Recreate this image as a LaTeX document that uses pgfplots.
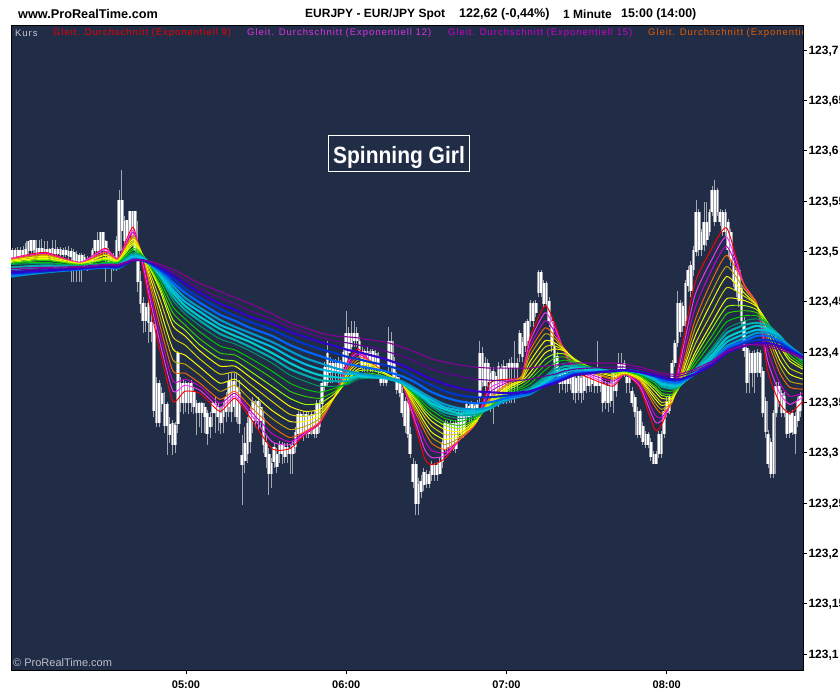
\documentclass[border=0pt]{standalone}
\usepackage{fontspec}
\setmainfont{Liberation Sans}
\newfontfamily\legfont[LetterSpace=10]{Liberation Sans}
\usepackage{pgfplots}
\usepackage{pgfplotstable}
\pgfplotsset{compat=1.18}
\definecolor{bgc}{HTML}{212D47}
\definecolor{c1}{HTML}{FF0000}\definecolor{c2}{HTML}{FF33FF}\definecolor{c3}{HTML}{CC00CC}\definecolor{c4}{HTML}{FF6600}
\definecolor{c5}{HTML}{C8A800}\definecolor{c6}{HTML}{FFFF00}\definecolor{c7}{HTML}{D8D800}\definecolor{c8}{HTML}{FFFF00}
\definecolor{c9}{HTML}{99FF00}\definecolor{c10}{HTML}{33CC00}\definecolor{c11}{HTML}{00CC00}\definecolor{c12}{HTML}{009966}
\definecolor{c13}{HTML}{00AAAA}\definecolor{c14}{HTML}{00CCCC}\definecolor{c15}{HTML}{00BBDD}\definecolor{c16}{HTML}{0099CC}
\definecolor{c17}{HTML}{0066FF}\definecolor{c18}{HTML}{0033CC}\definecolor{c19}{HTML}{3300CC}\definecolor{c20}{HTML}{660099}\definecolor{c21}{HTML}{880099}
\pgfplotstableread{
x top bot hi lo
235 123.501 123.492 123.503 123.490
236 123.501 123.493 123.503 123.491
237 123.501 123.494 123.504 123.492
238 123.501 123.493 123.504 123.490
239 123.501 123.494 123.505 123.491
240 123.502 123.494 123.508 123.492
241 123.510 123.500 123.510 123.497
242 123.511 123.500 123.511 123.497
243 123.511 123.501 123.511 123.498
244 123.503 123.497 123.511 123.495
245 123.503 123.497 123.511 123.495
246 123.503 123.497 123.512 123.495
247 123.502 123.497 123.510 123.494
248 123.502 123.497 123.510 123.494
249 123.502 123.497 123.503 123.494
250 123.503 123.497 123.511 123.494
251 123.502 123.497 123.511 123.494
252 123.502 123.497 123.504 123.494
253 123.502 123.496 123.504 123.494
254 123.501 123.496 123.503 123.494
255 123.501 123.496 123.504 123.494
256 123.500 123.495 123.505 123.490
257 123.500 123.494 123.503 123.470
258 123.499 123.490 123.502 123.470
259 123.497 123.490 123.500 123.470
260 123.496 123.488 123.498 123.470
261 123.496 123.488 123.498 123.470
262 123.494 123.487 123.497 123.482
263 123.491 123.485 123.495 123.480
264 123.491 123.486 123.494 123.482
265 123.501 123.490 123.503 123.483
266 123.511 123.500 123.511 123.490
267 123.511 123.500 123.519 123.490
268 123.519 123.501 123.519 123.495
269 123.519 123.501 123.519 123.495
270 123.510 123.500 123.511 123.470
271 123.500 123.488 123.503 123.485
272 123.495 123.486 123.498 123.470
273 123.495 123.488 123.498 123.480
274 123.511 123.492 123.515 123.480
275 123.551 123.500 123.561 123.490
276 123.551 123.520 123.581 123.500
277 123.530 123.510 123.535 123.500
278 123.531 123.510 123.531 123.500
279 123.540 123.515 123.540 123.505
280 123.540 123.515 123.540 123.505
281 123.540 123.500 123.540 123.490
282 123.500 123.470 123.530 123.460
283 123.471 123.448 123.480 123.439
284 123.449 123.431 123.455 123.419
285 123.445 123.431 123.449 123.420
286 123.449 123.429 123.452 123.409
287 123.430 123.420 123.440 123.410
288 123.428 123.341 123.430 123.335
289 123.369 123.329 123.375 123.325
290 123.369 123.329 123.372 123.325
291 123.359 123.348 123.365 123.340
292 123.348 123.326 123.360 123.320
293 123.348 123.326 123.350 123.298
294 123.328 123.318 123.335 123.310
295 123.329 123.308 123.332 123.298
296 123.327 123.308 123.330 123.300
297 123.399 123.328 123.401 123.320
298 123.369 123.349 123.375 123.340
299 123.369 123.349 123.372 123.338
300 123.369 123.349 123.371 123.340
301 123.369 123.349 123.370 123.338
302 123.369 123.349 123.372 123.340
303 123.360 123.345 123.365 123.338
304 123.349 123.339 123.352 123.318
305 123.349 123.339 123.350 123.325
306 123.349 123.339 123.350 123.320
307 123.345 123.335 123.349 123.320
308 123.339 123.319 123.342 123.308
309 123.335 123.325 123.340 123.315
310 123.349 123.339 123.350 123.325
311 123.349 123.339 123.355 123.320
312 123.345 123.335 123.350 123.322
313 123.339 123.329 123.345 123.319
314 123.345 123.335 123.350 123.320
315 123.355 123.340 123.360 123.330
316 123.371 123.345 123.379 123.335
317 123.371 123.340 123.379 123.330
318 123.371 123.345 123.379 123.335
319 123.365 123.335 123.379 123.330
320 123.360 123.328 123.372 123.320
321 123.298 123.288 123.318 123.248
322 123.310 123.292 123.325 123.280
323 123.329 123.299 123.335 123.290
324 123.341 123.311 123.345 123.300
325 123.351 123.331 123.355 123.320
326 123.348 123.335 123.352 123.325
327 123.351 123.331 123.355 123.322
328 123.345 123.331 123.350 123.325
329 123.334 123.308 123.340 123.300
330 123.311 123.296 123.318 123.285
331 123.299 123.279 123.305 123.258
332 123.290 123.279 123.295 123.265
333 123.306 123.291 123.310 123.285
334 123.299 123.286 123.305 123.280
335 123.308 123.299 123.312 123.290
336 123.308 123.299 123.311 123.289
337 123.306 123.296 123.310 123.290
338 123.306 123.299 123.310 123.290
339 123.304 123.299 123.308 123.279
340 123.308 123.299 123.312 123.279
341 123.321 123.306 123.325 123.300
342 123.338 123.319 123.341 123.315
343 123.338 123.319 123.340 123.315
344 123.336 123.320 123.341 123.312
345 123.338 123.319 123.340 123.315
346 123.336 123.319 123.341 123.315
347 123.338 123.322 123.340 123.318
348 123.338 123.319 123.342 123.315
349 123.349 123.319 123.352 123.315
350 123.349 123.325 123.352 123.320
351 123.369 123.348 123.372 123.340
352 123.385 123.365 123.390 123.360
353 123.399 123.369 123.411 123.365
354 123.389 123.379 123.395 123.369
355 123.389 123.379 123.392 123.369
356 123.389 123.379 123.393 123.370
357 123.389 123.379 123.395 123.369
358 123.389 123.379 123.392 123.370
359 123.400 123.385 123.405 123.375
360 123.419 123.389 123.441 123.385
361 123.419 123.399 123.425 123.395
362 123.419 123.405 123.431 123.400
363 123.419 123.411 123.431 123.405
364 123.419 123.411 123.425 123.405
365 123.411 123.399 123.415 123.395
366 123.401 123.384 123.405 123.380
367 123.401 123.386 123.403 123.380
368 123.401 123.384 123.405 123.380
369 123.399 123.384 123.403 123.380
370 123.401 123.386 123.403 123.380
371 123.399 123.384 123.402 123.380
372 123.396 123.384 123.400 123.378
373 123.374 123.369 123.378 123.366
374 123.374 123.369 123.376 123.366
375 123.374 123.369 123.378 123.366
376 123.411 123.386 123.425 123.380
377 123.411 123.386 123.420 123.380
378 123.390 123.375 123.395 123.370
379 123.375 123.362 123.380 123.358
380 123.371 123.359 123.375 123.355
381 123.359 123.339 123.365 123.335
382 123.351 123.326 123.355 123.320
383 123.349 123.319 123.352 123.315
384 123.319 123.299 123.325 123.295
385 123.289 123.271 123.295 123.265
386 123.289 123.249 123.292 123.238
387 123.269 123.249 123.275 123.238
388 123.272 123.261 123.278 123.255
389 123.281 123.268 123.285 123.262
390 123.279 123.269 123.283 123.265
391 123.279 123.269 123.282 123.265
392 123.288 123.278 123.292 123.272
393 123.288 123.278 123.290 123.272
394 123.288 123.278 123.291 123.272
395 123.291 123.279 123.295 123.279
396 123.311 123.291 123.315 123.285
397 123.329 123.304 123.332 123.300
398 123.329 123.306 123.331 123.300
399 123.327 123.304 123.332 123.300
400 123.329 123.306 123.330 123.302
401 123.329 123.304 123.332 123.300
402 123.338 123.319 123.341 123.315
403 123.338 123.319 123.340 123.315
404 123.336 123.319 123.341 123.315
405 123.348 123.334 123.351 123.330
406 123.346 123.334 123.350 123.330
407 123.348 123.336 123.351 123.330
408 123.346 123.334 123.350 123.330
409 123.348 123.334 123.352 123.330
410 123.399 123.354 123.411 123.350
411 123.399 123.370 123.405 123.365
412 123.389 123.366 123.395 123.360
413 123.389 123.370 123.393 123.365
414 123.379 123.356 123.385 123.340
415 123.381 123.351 123.385 123.328
416 123.376 123.356 123.380 123.350
417 123.386 123.351 123.390 123.345
418 123.384 123.355 123.388 123.350
419 123.386 123.351 123.392 123.348
420 123.386 123.351 123.389 123.348
421 123.389 123.384 123.393 123.349
422 123.389 123.384 123.395 123.349
423 123.389 123.384 123.411 123.349
424 123.389 123.384 123.394 123.355
425 123.419 123.398 123.422 123.390
426 123.410 123.395 123.415 123.390
427 123.429 123.406 123.431 123.400
428 123.431 123.411 123.433 123.405
429 123.449 123.431 123.452 123.425
430 123.449 123.431 123.451 123.425
431 123.449 123.439 123.452 123.435
432 123.479 123.459 123.481 123.455
433 123.479 123.459 123.481 123.455
434 123.469 123.448 123.472 123.445
435 123.469 123.448 123.471 123.445
436 123.451 123.431 123.455 123.425
437 123.431 123.406 123.435 123.400
438 123.406 123.386 123.410 123.380
439 123.396 123.379 123.400 123.375
440 123.379 123.368 123.385 123.359
441 123.379 123.368 123.383 123.362
442 123.379 123.368 123.382 123.359
443 123.377 123.368 123.383 123.360
444 123.379 123.368 123.385 123.362
445 123.376 123.359 123.380 123.352
446 123.374 123.359 123.378 123.349
447 123.376 123.361 123.380 123.352
448 123.374 123.359 123.378 123.349
449 123.376 123.361 123.380 123.352
450 123.379 123.366 123.383 123.359
451 123.377 123.366 123.382 123.360
452 123.379 123.368 123.385 123.360
453 123.377 123.366 123.383 123.359
454 123.379 123.366 123.411 123.359
455 123.377 123.366 123.382 123.360
456 123.368 123.349 123.372 123.340
457 123.368 123.351 123.371 123.343
458 123.366 123.349 123.370 123.340
459 123.368 123.351 123.372 123.345
460 123.379 123.361 123.382 123.339
461 123.377 123.361 123.380 123.355
462 123.389 123.379 123.399 123.375
463 123.389 123.379 123.399 123.375
464 123.389 123.379 123.392 123.375
465 123.375 123.369 123.378 123.359
466 123.375 123.369 123.378 123.359
467 123.361 123.349 123.365 123.345
468 123.355 123.340 123.358 123.335
469 123.341 123.318 123.345 123.315
470 123.341 123.318 123.343 123.315
471 123.326 123.311 123.330 123.308
472 123.319 123.308 123.322 123.305
473 123.319 123.308 123.321 123.305
474 123.311 123.296 123.315 123.292
475 123.299 123.289 123.302 123.289
476 123.299 123.289 123.302 123.289
477 123.319 123.299 123.322 123.295
478 123.319 123.299 123.322 123.295
479 123.341 123.319 123.345 123.315
480 123.351 123.339 123.355 123.335
481 123.355 123.341 123.358 123.338
482 123.389 123.369 123.392 123.365
483 123.409 123.389 123.412 123.385
484 123.449 123.409 123.461 123.405
485 123.449 123.420 123.452 123.415
486 123.446 123.426 123.450 123.420
487 123.469 123.431 123.472 123.425
488 123.481 123.466 123.485 123.460
489 123.486 123.461 123.490 123.455
490 123.501 123.481 123.505 123.475
491 123.539 123.499 123.551 123.495
492 123.539 123.501 123.542 123.495
493 123.519 123.501 123.522 123.495
494 123.529 123.506 123.549 123.500
495 123.529 123.511 123.549 123.505
496 123.539 123.519 123.542 123.515
497 123.561 123.539 123.565 123.535
498 123.561 123.529 123.571 123.525
499 123.561 123.539 123.563 123.535
500 123.539 123.529 123.542 123.525
501 123.539 123.519 123.541 123.515
502 123.539 123.519 123.542 123.515
503 123.529 123.501 123.532 123.495
504 123.519 123.491 123.522 123.485
505 123.491 123.470 123.495 123.465
506 123.481 123.461 123.485 123.455
507 123.481 123.451 123.485 123.445
508 123.464 123.431 123.468 123.425
509 123.431 123.401 123.435 123.395
510 123.404 123.369 123.408 123.359
511 123.399 123.379 123.402 123.359
512 123.399 123.379 123.401 123.365
513 123.399 123.379 123.402 123.359
514 123.400 123.380 123.403 123.375
515 123.399 123.379 123.402 123.375
516 123.381 123.339 123.385 123.335
517 123.351 123.321 123.355 123.315
518 123.319 123.289 123.323 123.285
519 123.311 123.279 123.315 123.275
520 123.339 123.279 123.342 123.275
521 123.366 123.339 123.370 123.335
522 123.366 123.351 123.370 123.345
523 123.359 123.339 123.362 123.335
524 123.356 123.339 123.360 123.335
525 123.339 123.319 123.342 123.315
526 123.337 123.320 123.340 123.315
527 123.339 123.321 123.342 123.318
528 123.336 123.319 123.340 123.299
529 123.351 123.331 123.355 123.325
530 123.356 123.341 123.360 123.335
}\candles
\pgfplotstableread[header=false]{
234.5 123.493 123.493 123.492 123.492 123.491 123.491 123.490 123.490 123.489 123.488 123.488 123.487 123.484 123.481 123.478 123.475 123.476 123.478 123.479 123.481 123.483
247.2 123.499 123.498 123.498 123.497 123.496 123.495 123.494 123.493 123.492 123.491 123.489 123.488 123.486 123.484 123.481 123.479 123.480 123.480 123.481 123.483 123.484
260.3 123.489 123.489 123.488 123.488 123.488 123.488 123.487 123.487 123.487 123.487 123.486 123.486 123.485 123.484 123.483 123.482 123.482 123.483 123.483 123.484 123.485
269.7 123.503 123.502 123.500 123.499 123.497 123.496 123.494 123.493 123.492 123.491 123.489 123.488 123.487 123.486 123.485 123.484 123.484 123.485 123.485 123.486 123.487
274.6 123.493 123.493 123.492 123.492 123.491 123.491 123.490 123.490 123.490 123.489 123.489 123.488 123.487 123.486 123.484 123.483 123.484 123.484 123.485 123.486 123.487
280.2 123.524 123.521 123.519 123.516 123.514 123.512 123.510 123.508 123.506 123.503 123.501 123.499 123.497 123.495 123.494 123.492 123.492 123.491 123.491 123.491 123.492
283.9 123.483 123.487 123.491 123.495 123.495 123.495 123.496 123.496 123.496 123.496 123.495 123.495 123.494 123.493 123.492 123.491 123.491 123.491 123.491 123.491 123.491
286.5 123.446 123.453 123.459 123.466 123.470 123.475 123.479 123.483 123.484 123.485 123.487 123.488 123.488 123.488 123.487 123.487 123.488 123.488 123.489 123.490 123.490
290.3 123.401 123.409 123.418 123.426 123.435 123.443 123.452 123.461 123.464 123.467 123.471 123.474 123.475 123.476 123.478 123.479 123.481 123.482 123.484 123.485 123.487
295.1 123.351 123.361 123.371 123.381 123.392 123.403 123.415 123.426 123.432 123.439 123.445 123.451 123.455 123.459 123.462 123.466 123.469 123.473 123.476 123.479 123.482
299.6 123.361 123.367 123.373 123.379 123.388 123.397 123.407 123.416 123.422 123.427 123.433 123.438 123.442 123.446 123.450 123.454 123.459 123.463 123.468 123.472 123.476
305.2 123.359 123.362 123.366 123.369 123.377 123.385 123.393 123.401 123.407 123.413 123.420 123.426 123.431 123.435 123.440 123.444 123.449 123.454 123.459 123.463 123.468
312.7 123.341 123.345 123.349 123.353 123.361 123.369 123.378 123.386 123.393 123.399 123.406 123.413 123.418 123.423 123.427 123.432 123.437 123.443 123.448 123.454 123.460
318.3 123.354 123.356 123.359 123.361 123.367 123.373 123.380 123.386 123.391 123.397 123.402 123.408 123.412 123.416 123.421 123.425 123.431 123.436 123.442 123.448 123.454
324.0 123.335 123.339 123.342 123.346 123.353 123.361 123.368 123.375 123.381 123.388 123.394 123.401 123.405 123.410 123.414 123.419 123.424 123.430 123.435 123.441 123.448
332.2 123.304 123.311 123.319 123.326 123.334 123.342 123.351 123.359 123.366 123.374 123.381 123.389 123.394 123.399 123.405 123.410 123.416 123.422 123.428 123.433 123.438
338.9 123.304 123.308 123.311 123.315 123.323 123.331 123.338 123.346 123.354 123.361 123.369 123.377 123.383 123.389 123.395 123.401 123.407 123.414 123.420 123.425 123.429
344.5 123.318 123.319 123.320 123.321 123.326 123.331 123.336 123.341 123.348 123.356 123.363 123.371 123.377 123.382 123.388 123.394 123.401 123.408 123.415 123.420 123.424
350.1 123.329 123.330 123.330 123.331 123.334 123.337 123.340 123.343 123.349 123.354 123.360 123.366 123.372 123.377 123.383 123.389 123.396 123.403 123.410 123.415 123.419
355.8 123.358 123.357 123.357 123.356 123.356 123.356 123.356 123.356 123.359 123.361 123.364 123.366 123.371 123.375 123.380 123.384 123.391 123.399 123.406 123.411 123.416
360.6 123.391 123.389 123.386 123.384 123.381 123.379 123.376 123.373 123.372 123.371 123.369 123.368 123.371 123.374 123.378 123.381 123.388 123.395 123.402 123.409 123.415
364.4 123.403 123.400 123.398 123.395 123.392 123.389 123.386 123.383 123.381 123.378 123.376 123.373 123.375 123.376 123.378 123.379 123.386 123.393 123.400 123.407 123.414
368.9 123.391 123.391 123.391 123.391 123.389 123.388 123.386 123.385 123.382 123.379 123.377 123.374 123.375 123.375 123.376 123.377 123.384 123.390 123.397 123.405 123.412
374.5 123.378 123.378 123.379 123.379 123.379 123.379 123.379 123.379 123.378 123.376 123.375 123.374 123.374 123.374 123.375 123.375 123.381 123.387 123.393 123.401 123.410
380.8 123.369 123.369 123.369 123.369 123.369 123.369 123.369 123.369 123.369 123.369 123.369 123.369 123.369 123.370 123.370 123.371 123.376 123.382 123.387 123.396 123.405
385.7 123.328 123.332 123.337 123.341 123.344 123.347 123.350 123.353 123.355 123.356 123.358 123.359 123.360 123.361 123.363 123.364 123.370 123.375 123.381 123.391 123.400
389.4 123.294 123.303 123.312 123.321 123.326 123.330 123.335 123.339 123.342 123.345 123.348 123.351 123.353 123.354 123.356 123.358 123.364 123.370 123.376 123.386 123.396
392.1 123.288 123.295 123.302 123.309 123.315 123.320 123.326 123.331 123.335 123.338 123.342 123.345 123.347 123.349 123.352 123.354 123.360 123.367 123.373 123.383 123.393
396.9 123.294 123.297 123.300 123.303 123.308 123.313 123.318 123.323 123.327 123.330 123.334 123.337 123.340 123.343 123.345 123.348 123.355 123.361 123.368 123.379 123.390
402.5 123.313 123.313 123.313 123.313 123.315 123.317 123.319 123.321 123.324 123.327 123.331 123.334 123.337 123.339 123.342 123.344 123.351 123.357 123.364 123.376 123.387
408.2 123.328 123.328 123.328 123.328 123.329 123.329 123.330 123.331 123.332 123.333 123.335 123.336 123.338 123.340 123.341 123.343 123.349 123.355 123.361 123.373 123.385
413.8 123.369 123.364 123.360 123.355 123.353 123.351 123.350 123.348 123.347 123.346 123.345 123.344 123.344 123.344 123.345 123.345 123.350 123.355 123.360 123.372 123.384
421.3 123.373 123.372 123.371 123.370 123.369 123.367 123.366 123.365 123.363 123.361 123.359 123.357 123.356 123.355 123.354 123.353 123.355 123.357 123.359 123.371 123.384
425.7 123.376 123.376 123.376 123.376 123.375 123.373 123.372 123.371 123.369 123.366 123.364 123.362 123.360 123.359 123.357 123.356 123.357 123.359 123.360 123.372 123.384
428.7 123.414 123.410 123.405 123.401 123.396 123.390 123.385 123.379 123.375 123.372 123.368 123.365 123.363 123.361 123.360 123.358 123.359 123.360 123.361 123.373 123.384
434.4 123.446 123.439 123.431 123.424 123.418 123.411 123.405 123.399 123.393 123.387 123.382 123.376 123.374 123.371 123.369 123.367 123.367 123.366 123.366 123.376 123.386
438.1 123.428 123.424 123.420 123.416 123.413 123.409 123.406 123.403 123.398 123.394 123.389 123.385 123.382 123.379 123.376 123.373 123.372 123.370 123.369 123.378 123.387
441.8 123.398 123.400 123.401 123.403 123.402 123.402 123.401 123.401 123.398 123.395 123.392 123.389 123.386 123.383 123.380 123.377 123.376 123.374 123.373 123.381 123.388
445.6 123.381 123.384 123.388 123.391 123.391 123.392 123.392 123.393 123.392 123.390 123.389 123.388 123.386 123.384 123.382 123.380 123.379 123.378 123.377 123.383 123.389
451.2 123.374 123.376 123.378 123.380 123.381 123.382 123.384 123.385 123.385 123.385 123.385 123.385 123.384 123.383 123.381 123.380 123.380 123.379 123.379 123.384 123.389
459.8 123.366 123.368 123.371 123.373 123.374 123.376 123.377 123.379 123.379 123.380 123.380 123.381 123.381 123.381 123.381 123.381 123.381 123.381 123.381 123.385 123.389
464.3 123.378 123.378 123.378 123.378 123.379 123.379 123.380 123.380 123.380 123.381 123.381 123.382 123.382 123.382 123.382 123.382 123.382 123.382 123.382 123.385 123.388
469.9 123.364 123.366 123.369 123.371 123.372 123.373 123.374 123.375 123.376 123.376 123.377 123.378 123.379 123.379 123.380 123.380 123.380 123.380 123.380 123.383 123.385
475.5 123.323 123.331 123.338 123.346 123.350 123.354 123.357 123.361 123.364 123.366 123.369 123.371 123.372 123.373 123.374 123.375 123.376 123.376 123.377 123.379 123.381
478.1 123.328 123.332 123.335 123.339 123.343 123.347 123.350 123.354 123.357 123.359 123.362 123.365 123.366 123.368 123.369 123.371 123.372 123.374 123.375 123.377 123.379
481.9 123.354 123.352 123.351 123.349 123.350 123.351 123.353 123.354 123.356 123.358 123.361 123.363 123.364 123.366 123.367 123.369 123.370 123.372 123.373 123.376 123.378
484.9 123.394 123.388 123.382 123.376 123.373 123.371 123.368 123.366 123.366 123.366 123.366 123.366 123.367 123.367 123.368 123.369 123.370 123.372 123.373 123.376 123.378
490.5 123.468 123.456 123.443 123.431 123.423 123.415 123.407 123.399 123.395 123.391 123.387 123.383 123.382 123.380 123.379 123.378 123.378 123.378 123.378 123.381 123.383
496.9 123.503 123.492 123.482 123.471 123.460 123.450 123.439 123.429 123.423 123.416 123.410 123.404 123.401 123.397 123.394 123.391 123.390 123.388 123.387 123.389 123.391
502.5 123.523 123.514 123.505 123.496 123.485 123.475 123.464 123.453 123.445 123.438 123.430 123.423 123.419 123.414 123.410 123.406 123.404 123.401 123.399 123.400 123.401
509.2 123.464 123.465 123.465 123.466 123.462 123.458 123.455 123.451 123.446 123.441 123.436 123.431 123.427 123.422 123.418 123.414 123.411 123.409 123.406 123.406 123.407
513.7 123.448 123.448 123.448 123.448 123.447 123.446 123.446 123.445 123.442 123.439 123.436 123.433 123.429 123.426 123.422 123.419 123.416 123.412 123.409 123.408 123.407
517.8 123.381 123.391 123.401 123.411 123.416 123.420 123.425 123.429 123.429 123.429 123.428 123.428 123.426 123.423 123.421 123.419 123.416 123.412 123.409 123.407 123.405
522.3 123.349 123.359 123.369 123.379 123.386 123.392 123.399 123.406 123.408 123.411 123.413 123.416 123.416 123.415 123.415 123.414 123.411 123.409 123.406 123.404 123.402
526.0 123.339 123.348 123.356 123.365 123.371 123.378 123.384 123.391 123.394 123.397 123.401 123.404 123.404 123.405 123.405 123.406 123.404 123.403 123.401 123.400 123.399
530.9 123.351 123.355 123.359 123.363 123.368 123.373 123.378 123.383 123.385 123.387 123.389 123.391 123.392 123.393 123.395 123.396 123.396 123.395 123.395 123.394 123.393
}\ribbon
\begin{document}
\begin{tikzpicture}[x=1pt,y=1pt]
\useasboundingbox (0,0) rectangle (840,-691);
\begin{axis}[
  at={(11pt,-670pt)}, anchor=south west,
  scale only axis, width=792pt, height=645pt,
  xmin=234.5, xmax=531, ymin=123.0841, ymax=123.7248,
  axis background/.style={fill=bgc},
  axis line style={black,line width=1pt},
  tick align=outside, major tick length=4pt,
  tick style={black,line width=.8pt},
  xtick pos=bottom, ytick pos=right, yticklabel pos=right,
  xtick={300,360,420,480}, xticklabels={05:00,06:00,07:00,08:00},
  ytick={123.1,123.15,123.2,123.25,123.3,123.35,123.4,123.45,123.5,123.55,123.6,123.65,123.7},
  yticklabels={{123,1},{123,15},{123,2},{123,25},{123,3},{123,35},{123,4},{123,45},{123,5},{123,55},{123,6},{123,65},{123,7}},
  yticklabel style={font=\bfseries\fontsize{12}{12}\selectfont,anchor=west,xshift=-2pt,yshift=-1pt},
  xticklabel style={font=\bfseries\fontsize{11}{11}\selectfont,yshift=-3pt},
]
\addplot[draw=none,mark=none,error bars/.cd,y dir=plus,y explicit,error mark=none,
  error bar style={color=white!58!bgc,line width=1pt}]
  table[x=x,y=lo,y error expr=\thisrow{hi}-\thisrow{lo}] {\candles};
\addplot[draw=none,mark=none,error bars/.cd,y dir=plus,y explicit,error mark=none,
  error bar style={color=white!55!bgc,line width=3.8pt}]
  table[x=x,y=bot,y error expr=\thisrow{top}-\thisrow{bot}] {\candles};
\addplot[draw=none,mark=none,error bars/.cd,y dir=plus,y explicit,error mark=none,
  error bar style={color=white,line width=1.7pt}]
  table[x=x,y=bot,y error expr=\thisrow{top}-\thisrow{bot}] {\candles};
\pgfplotsinvokeforeach{1,...,12}{
  \addplot[color=c#1,line width=.95pt,mark=none,smooth,tension=.35] table[x index=0,y index=#1] {\ribbon};
}
\pgfplotsinvokeforeach{13,...,19}{
  \addplot[color=c#1,line width=2.1pt,mark=none,smooth,tension=.35] table[x index=0,y index=#1] {\ribbon};
}
\pgfplotsinvokeforeach{20,21}{
  \addplot[color=c#1,line width=1.1pt,mark=none,smooth,tension=.35] table[x index=0,y index=#1] {\ribbon};
}
\end{axis}
\node[anchor=west,inner sep=0pt,font=\bfseries\fontsize{12.7}{13}\selectfont] at (18,-14) {www.ProRealTime.com};
\node[anchor=west,inner sep=0pt,font=\bfseries\fontsize{12}{12}\selectfont] at (305,-14) {EURJPY - EUR/JPY Spot};
\node[anchor=west,inner sep=0pt,font=\bfseries\fontsize{12.6}{13}\selectfont] at (459,-14) {122,62 (-0,44\%)};
\node[anchor=west,inner sep=0pt,font=\bfseries\fontsize{12}{12}\selectfont] at (563,-14) {1 Minute};
\node[anchor=west,inner sep=0pt,font=\bfseries\fontsize{12.4}{13}\selectfont] at (621,-14) {15:00 (14:00)};
\node[anchor=west,inner sep=0pt,text=white!75!bgc,font=\legfont\fontsize{9.5}{10}\selectfont] at (15,-33) {Kurs};
\node[anchor=west,inner sep=0pt,text=red!92!black,font=\legfont\fontsize{9.5}{10}\selectfont] at (53,-33) {Gleit. Durchschnitt (Exponentiell 9)};
\node[anchor=west,inner sep=0pt,text=c2!85!bgc,font=\legfont\fontsize{9.5}{10}\selectfont] at (247,-33) {Gleit. Durchschnitt (Exponentiell 12)};
\node[anchor=west,inner sep=0pt,text=c3,font=\legfont\fontsize{9.5}{10}\selectfont] at (448,-33) {Gleit. Durchschnitt (Exponentiell 15)};
\begin{scope}
\clip (640,-25) rectangle (802.5,-40);
\node[anchor=west,inner sep=0pt,text=c4!90!black,font=\legfont\fontsize{9.5}{10}\selectfont] at (648,-33) {Gleit. Durchschnitt (Exponentiell 18)};
\end{scope}
\node[draw=white,line width=1pt,fill=bgc,minimum width=141pt,minimum height=36pt,inner sep=0pt] at (398.5,-153) {};
\node[text=white,inner sep=0pt,font=\bfseries\fontsize{21}{21}\selectfont] at (399,-157) {\scalebox{1}[1.12]{Spinning Girl}};
\node[anchor=west,inner sep=0pt,text=white!70!bgc,font=\fontsize{11}{11}\selectfont] at (13,-663) {© ProRealTime.com};
\end{tikzpicture}
\end{document}
